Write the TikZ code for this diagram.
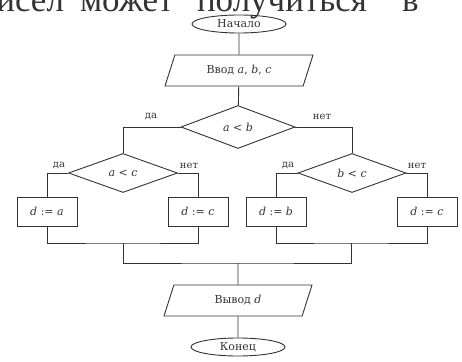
\documentclass[tikz,border=0pt]{standalone}
\usepackage{fontspec}
\setmainfont{DejaVu Serif}
\newfontfamily\pagefont{Liberation Serif}
\usetikzlibrary{shapes.geometric}

\begin{document}
\begin{tikzpicture}[x=1pt,y=-1pt,line width=0.9pt,color=black!80,
    term/.style={ellipse, draw, minimum width=94pt, minimum height=18pt, inner sep=0pt, font=\fontsize{11}{12}\selectfont},
    io/.style={trapezium, trapezium left angle=45, trapezium right angle=135, trapezium stretches body, draw, minimum width=148pt, minimum height=31pt, inner sep=0pt, font=\fontsize{11}{12}\selectfont},
    cond/.style={diamond, draw, inner sep=0pt, font=\fontsize{11}{12}\selectfont},
    act/.style={rectangle, draw, minimum width=60pt, minimum height=29pt, inner sep=0pt, font=\fontsize{11}{12}\selectfont},
    ans/.style={inner sep=0pt, font=\fontsize{10}{11}\selectfont},
    pagetext/.style={inner sep=0pt, outer sep=0pt, font=\pagefont\fontsize{35}{37}\selectfont}]
    \useasboundingbox (0,0) rectangle (462,361);

    % Line of page text cut off above the chart
    \begin{scope}
        \clip (0,0) rectangle (462,361);
        \node[pagetext, anchor=base east] (w1) at (64,12) {чисел};
        \node[pagetext, anchor=base west] (w2) at (80,12) {может};
        \node[pagetext, anchor=base west] (w3) at (197,12) {получиться};
        \node[pagetext, anchor=base west] (w4) at (402,12) {в};
    \end{scope}

    % Draw nodes
    \node[term] (start) at (239,24) {Начало};
    \node[io] (in) at (239,70.5) {Ввод \textit{a}, \textit{b}, \textit{c}};
    \node[cond, minimum width=114pt, minimum height=43pt] (c1) at (238,127) {\textit{a} < \textit{b}};
    \node[cond, minimum width=109pt, minimum height=39pt] (c2) at (123,173) {\textit{a} < \textit{c}};
    \node[cond, minimum width=108pt, minimum height=39pt] (c3) at (352,173) {\textit{b} < \textit{c}};
    \node[act] (b1) at (47,211.5) {\textit{d} := \textit{a}};
    \node[act] (b2) at (198,211.5) {\textit{d} := \textit{c}};
    \node[act] (b3) at (276,211.5) {\textit{d} := \textit{b}};
    \node[act] (b4) at (427,211.5) {\textit{d} := \textit{c}};
    \node[io] (out) at (238,300.5) {Вывод \textit{d}};
    \node[term] (stop) at (238,347) {Конец};

    % Answer labels
    \node[ans] (yes1) at (151,117) {да};
    \node[ans] (no1) at (322,117) {нет};
    \node[ans] (yes2) at (59,166) {да};
    \node[ans] (no2) at (189,166) {нет};
    \node[ans] (yes3) at (288,166) {да};
    \node[ans] (no3) at (417,166) {нет};

    % Join points
    \coordinate (m1) at (123,243);
    \coordinate (m2) at (351,243);
    \coordinate (j) at (238,263);

    % Draw edges
    \draw (start) -- (in);
    \draw (in) -- (c1);
    \draw (c1.west) -| (c2.north); % branch да
    \draw (c1.east) -| (c3.north); % branch нет
    \draw (c2.west) -| (b1.north);
    \draw (c2.east) -| (b2.north);
    \draw (c3.west) -| (b3.north);
    \draw (c3.east) -| (b4.north);
    \draw (b1.south) |- (m1) -| (b2.south);
    \draw (b3.south) |- (m2) -| (b4.south);
    \draw (m1) |- (j) -| (m2);
    \draw (j) -- (out);
    \draw (out) -- (stop);
\end{tikzpicture}
\end{document}
